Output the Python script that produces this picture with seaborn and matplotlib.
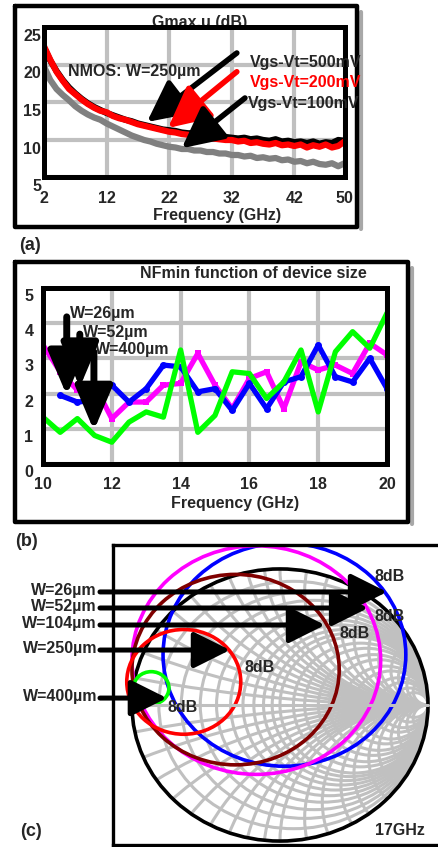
import matplotlib
matplotlib.use("Agg")
import matplotlib.pyplot as plt
import seaborn as sns
from matplotlib.patches import Circle
from matplotlib.transforms import ScaledTranslation

# ---- (a) Gmax,u of NMOS W=250um, three bias points ----
freq_a = list(range(2, 51))
gmax_500mv = [22.3, 20.6, 19.2, 18.0, 17.0, 16.2, 15.5, 14.9, 14.4, 14.0,
              13.6, 13.3, 13.0, 12.7, 12.5, 12.2, 12.0, 11.8, 11.6, 11.4,
              11.3, 11.2, 11.0, 10.9, 10.9, 10.7, 10.6, 10.6, 10.4, 10.4,
              10.3, 10.2, 10.3, 10.1, 10.2, 10.0, 9.9, 10.1, 9.8, 9.9,
              9.7, 9.8, 9.6, 9.8, 9.5, 9.7, 9.6, 10.0, 9.9]
gmax_200mv = [22.5, 20.7, 19.1, 17.9, 16.8, 16.1, 15.4, 14.8, 14.3, 13.9,
              13.7, 13.2, 12.9, 12.7, 12.4, 12.1, 11.9, 11.7, 11.5, 11.3,
              11.1, 11.0, 10.8, 10.7, 10.5, 10.6, 10.3, 10.2, 10.1, 10.0,
              10.0, 9.8, 9.9, 9.6, 9.7, 9.5, 9.4, 9.6, 9.3, 9.4,
              9.2, 9.4, 9.0, 9.3, 9.1, 9.4, 9.0, 9.2, 9.8]
gmax_100mv = [19.8, 18.0, 16.8, 16.0, 15.3, 14.5, 13.9, 13.4, 13.0, 12.7,
              12.2, 11.8, 11.4, 11.0, 10.6, 10.3, 10.0, 9.8, 9.5, 9.3,
              9.1, 9.0, 8.8, 8.8, 8.6, 8.6, 8.4, 8.4, 8.2, 8.2,
              8.0, 8.0, 7.8, 7.9, 7.6, 7.7, 7.5, 7.6, 7.3, 7.4,
              7.1, 7.2, 6.9, 7.1, 6.8, 6.7, 6.9, 6.5, 6.9]

# ---- (b) NFmin vs frequency for three device widths ----
freq_b = [10, 10.5, 11, 11.5, 12, 12.5, 13, 13.5, 14, 14.5, 15,
          15.5, 16, 16.5, 17, 17.5, 18, 18.5, 19, 19.5, 20]
nf_400um = [1.33, 0.90, 1.29, 0.81, 0.62, 1.19, 1.48, 1.33, 3.24, 0.90, 1.38,
            2.62, 2.57, 1.86, 2.33, 3.24, 1.48, 3.19, 3.76, 3.29, 4.29]
nf_52um = [3.38, 2.62, 2.10, 2.24, 1.29, 1.76, 1.76, 2.24, 2.29, 3.14, 2.24,
           1.57, 2.43, 2.62, 1.57, 2.90, 2.67, 2.81, 2.57, 3.43, 3.10]
freq_b_26 = freq_b[1:]
nf_26um = [1.95, 1.76, 1.81, 2.24, 1.76, 2.14, 2.81, 2.76, 2.05, 2.14,
           1.52, 2.29, 1.57, 2.33, 2.48, 3.38, 2.48, 2.33, 3.00, 2.14]

# ---- (c) 8dB constant noise circles at 17GHz (reflection plane) ----
width_labels = ["W=26\u00b5m", "W=52\u00b5m", "W=104\u00b5m", "W=250\u00b5m", "W=400\u00b5m"]
circle_colors = ["#0000ff", "#ff00ff", "#800000", "#ff0000", "#00ff00"]
circle_cx = [0.03, -0.16, -0.30, -0.65, -0.87]
circle_cy = [0.37, 0.33, 0.26, 0.17, 0.125]
circle_r = [0.82, 0.84, 0.70, 0.385, 0.12]
smith_r = [0.1, 0.2, 0.3, 0.4, 0.5, 0.6, 0.7, 0.8, 0.9, 1.0,
           1.2, 1.4, 1.7, 2.0, 2.5, 3.0, 4.0, 5.0, 7.0, 10.0]
smith_x = [0.1, 0.2, 0.3, 0.4, 0.5, 0.6, 0.7, 0.8, 0.9, 1.0,
           1.2, 1.4, 1.7, 2.0, 2.5, 3.0, 4.0, 5.0, 7.0, 10.0]

W_PX, H_PX = 438, 847


def frame(left, top, right, bottom):
    return [left / W_PX, 1 - bottom / H_PX, (right - left) / W_PX, (bottom - top) / H_PX]


def shift_yticklabels(ax, px):
    off = ScaledTranslation(0, -px / 100, ax.figure.dpi_scale_trans)
    for lab in ax.get_yticklabels():
        lab.set_transform(lab.get_transform() + off)


def arrow(ax, tail, tip, lw, ms, hl, hw, color="black"):
    ax.annotate("", xy=tip, xytext=tail, annotation_clip=False,
                arrowprops=dict(arrowstyle=f"-|>,head_length={hl},head_width={hw}",
                                mutation_scale=ms, lw=lw, color=color,
                                shrinkA=0, shrinkB=0))


sns.set_style("white")
plt.rcParams["font.family"] = ["Liberation Sans", "DejaVu Sans"]
plt.rcParams["font.weight"] = "bold"
plt.rcParams["axes.labelweight"] = "bold"
plt.rcParams["font.size"] = 11.5

fig = plt.figure(figsize=(4.38, 8.47), dpi=100)

# page layer: outer frames, panel letters, titles
page = fig.add_axes([0, 0, 1, 1])
page.set_xlim(0, W_PX)
page.set_ylim(H_PX, 0)
page.axis("off")
for (l, t, r, b) in [(15, 6, 357, 227), (15, 262, 408, 522)]:
    page.plot([r + 4, r + 4], [t + 6, b + 2], color="#a8a8a8", lw=3)
    page.plot([l, r, r, l, l], [t, t, b, b, t], color="black", lw=3.2,
              solid_joinstyle="round")
page.text(200, 22, "Gmax,u (dB)", ha="center", va="center")
page.text(253, 273, "NFmin function of device size", ha="center", va="center")
page.text(19, 245, "(a)", ha="left", va="center", fontsize=13)
page.text(15, 542, "(b)", ha="left", va="center", fontsize=13)
page.text(20, 832, "(c)", ha="left", va="center", fontsize=13)

# ---------------- (a) ----------------
ax_a = fig.add_axes(frame(44, 27.5, 344.5, 177.5))
sns.lineplot(x=freq_a, y=gmax_100mv, color="#808080", lw=4.5, ax=ax_a)
sns.lineplot(x=freq_a, y=gmax_500mv, color="black", lw=4.5, ax=ax_a)
sns.lineplot(x=freq_a, y=gmax_200mv, color="#ff0000", lw=4.5, ax=ax_a)
ax_a.set_xlim(2, 50)
ax_a.set_ylim(5, 25)
ax_a.set_xticks([2, 12, 22, 32, 42, 50])
ax_a.set_yticks([5, 10, 15, 20, 25])
ax_a.grid(True, color="#c0c0c0", lw=3)
ax_a.set_axisbelow(True)
for s in ax_a.spines.values():
    s.set_linewidth(3.6)
    s.set_color("black")
ax_a.tick_params(axis="x", length=0, pad=10)
ax_a.tick_params(axis="y", length=0, pad=2)
ax_a.set_ylabel("")
ax_a.set_xlabel("Frequency (GHz)", labelpad=1, x=0.577)
shift_yticklabels(ax_a, 7.5)

ax_a.text(5.8, 19.1, "NMOS: W=250\u00b5m", ha="left", va="center")
ax_a.text(34.9, 20.4, "Vgs-Vt=500mV", ha="left", va="center", clip_on=False)
ax_a.text(34.9, 17.6, "Vgs-Vt=200mV", ha="left", va="center", color="#ff0000", clip_on=False)
ax_a.text(34.6, 14.9, "Vgs-Vt=100mV", ha="left", va="center", clip_on=False)
arrow(ax_a, (32.8, 21.6), (18.45, 12.4), 4, 28, 0.9, 0.45)
arrow(ax_a, (32.8, 19.1), (21.8, 11.6), 4, 28, 0.9, 0.45, color="#ff0000")
arrow(ax_a, (34.1, 15.6), (24.0, 8.9), 4, 28, 0.9, 0.45)

# ---------------- (b) ----------------
ax_b = fig.add_axes(frame(43, 288, 387, 464))
sns.lineplot(x=freq_b, y=nf_52um, color="#ff00ff", lw=3.8, marker="s",
             markersize=5, markeredgewidth=0, ax=ax_b)
sns.lineplot(x=freq_b_26, y=nf_26um, color="#0000ff", lw=3.8, marker="o",
             markersize=5, markeredgewidth=0, ax=ax_b)
sns.lineplot(x=freq_b, y=nf_400um, color="#00ff00", lw=3.8, ax=ax_b)
ax_b.set_xlim(10, 20)
ax_b.set_ylim(0, 5)
ax_b.set_xticks([10, 12, 14, 16, 18, 20])
ax_b.set_yticks([0, 1, 2, 3, 4, 5])
ax_b.grid(True, color="#c0c0c0", lw=3)
ax_b.set_axisbelow(True)
for s in ax_b.spines.values():
    s.set_linewidth(3.6)
    s.set_color("black")
ax_b.tick_params(axis="x", length=0, pad=9)
ax_b.tick_params(axis="y", length=0, pad=7)
ax_b.set_ylabel("")
ax_b.set_xlabel("Frequency (GHz)", labelpad=3, x=0.558)
shift_yticklabels(ax_b, 7)

ax_b.text(10.78, 4.28, "W=26\u00b5m", ha="left", va="center")
ax_b.text(11.15, 3.75, "W=52\u00b5m", ha="left", va="center")
ax_b.text(11.5, 3.24, "W=400\u00b5m", ha="left", va="center")
arrow(ax_b, (10.69, 4.18), (10.69, 1.95), 5, 30, 0.9, 0.38)
arrow(ax_b, (11.07, 3.69), (11.07, 2.18), 5, 30, 0.9, 0.38)
arrow(ax_b, (11.48, 3.18), (11.48, 0.95), 5, 30, 0.9, 0.38)

# ---------------- (c) ----------------
ax_c = fig.add_axes(frame(113, 545, 460, 845))
ax_c.set_xlim(-1.128, 1.216)
ax_c.set_ylim(-1.029, 1.176)
ax_c.set_xticks([])
ax_c.set_yticks([])
for side in ["left", "top", "bottom"]:
    ax_c.spines[side].set_linewidth(2.4)
    ax_c.spines[side].set_color("black")
ax_c.spines["right"].set_visible(False)

unit = Circle((0, 0), 1, transform=ax_c.transData)
grid_kw = dict(fill=False, ec="#c0c0c0", lw=2.2)
for r in smith_r:
    c = ax_c.add_patch(Circle((r / (1 + r), 0), 1 / (1 + r), **grid_kw))
    c.set_clip_path(unit)
for xv in smith_x:
    for sgn in (1, -1):
        c = ax_c.add_patch(Circle((1, sgn / xv), 1 / xv, **grid_kw))
        c.set_clip_path(unit)
ax_c.plot([-1, 1], [0, 0], color="#c0c0c0", lw=2.2)
ax_c.add_patch(Circle((0, 0), 1, fill=False, ec="black", lw=2.6))

for cx, cy, rr, col in zip(circle_cx, circle_cy, circle_r, circle_colors):
    ax_c.add_patch(Circle((cx, cy), rr, fill=False, ec=col, lw=2.6))

tips_c = [(0.723, 0.831), (0.595, 0.713), (0.304, 0.588), (-0.338, 0.404), (-0.764, 0.051)]
for lab, (tx, ty) in zip(width_labels, tips_c):
    arrow(ax_c, (-1.216, ty), (tx, ty), 3.6, 28, 0.8, 0.4)
    ax_c.text(-1.236, ty + 0.01, lab, ha="right", va="center", clip_on=False)

for (lx, ly) in [(0.743, 0.941), (0.743, 0.647), (0.507, 0.522), (-0.135, 0.272), (-0.655, -0.022)]:
    ax_c.text(lx, ly, "8dB", ha="center", va="center")
ax_c.text(0.811, -0.926, "17GHz", ha="center", va="center")

fig.savefig("out.png", dpi=100)
